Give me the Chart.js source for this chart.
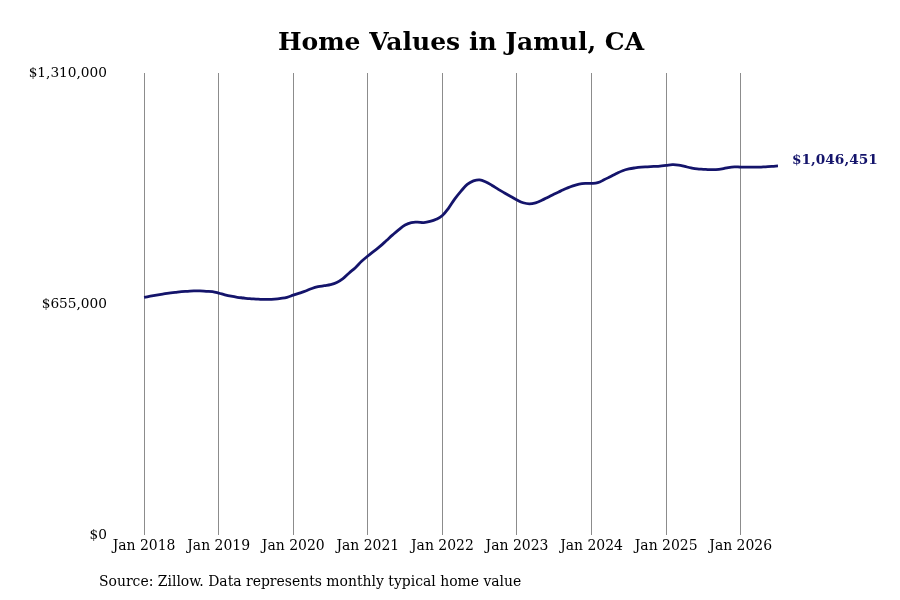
<!DOCTYPE html>
<html>
<head>
<meta charset="utf-8">
<script src="https://cdn.jsdelivr.net/npm/chart.js@4.4.1/dist/chart.umd.min.js"></script>
<style>
  html, body { margin: 0; padding: 0; background: #ffffff; }
  #wrap { position: relative; width: 900px; height: 600px; }
</style>
</head>
<body>
<div id="wrap"><canvas id="c" width="900" height="600"></canvas></div>
<script>
// Month index 0 = Jan 2018
const startYear = 2018;
const homeValues = [
  674000, 677000, 680000, 683000, 686000, 688000, 690000, 691000, 692000, 692000, 691000, 690000,
  686000, 681000, 677000, 674000, 672000, 670000, 669000, 668000, 668000, 669000, 671000, 674000,
  680000, 686000, 692000, 699000, 704000, 707000, 710000, 716000, 727000, 743000, 758000, 776000,
  791000, 805000, 819000, 835000, 851000, 866000, 879000, 886000, 887000, 886000, 889000, 895000,
  906000, 927000, 953000, 975000, 994000, 1004000, 1007000, 1001000, 991000, 980000, 970000, 960000,
  950000, 942000, 939000, 942000, 949000, 958000, 967000, 975000, 983000, 990000, 995000, 997000,
  997000, 999000, 1007000, 1016000, 1025000, 1033000, 1038000, 1041000, 1043000, 1044000, 1045000, 1046000,
  1048000, 1050000, 1049000, 1045000, 1041000, 1038000, 1037000, 1036000, 1036000, 1038000, 1042000, 1044000,
  1043000, 1043000, 1043000, 1043000, 1044000, 1045000, 1046451
];
const monthLabels = homeValues.map((_, i) => {
  const names = ['Jan','Feb','Mar','Apr','May','Jun','Jul','Aug','Sep','Oct','Nov','Dec'];
  return names[i % 12] + ' ' + (startYear + Math.floor(i / 12));
});
const yearTickLabels = ['Jan 2018','Jan 2019','Jan 2020','Jan 2021','Jan 2022','Jan 2023','Jan 2024','Jan 2025','Jan 2026'];
const yTickValues = [0, 655000, 1310000];
const titleText = 'Home Values in Jamul, CA';
const sourceText = 'Source: Zillow. Data represents monthly typical home value';
const endLabel = '$1,046,451';

const points = homeValues.map((v, i) => ({ x: i, y: v }));
const lineColor = '#14146b';

const fmt = v => '$' + Math.round(v).toLocaleString('en-US');

const overlay = {
  id: 'overlay',
  afterDraw(chart) {
    const ctx = chart.ctx;
    ctx.save();
    ctx.fillStyle = '#000';
    ctx.textAlign = 'center';
    ctx.textBaseline = 'middle';
    ctx.font = 'bold 25px "DejaVu Serif"';
    ctx.fillText(titleText, 461, 43);
    ctx.font = '15.5px "DejaVu Serif Condensed", "DejaVu Serif"';
    ctx.textAlign = 'left';
    ctx.fillText(sourceText, 99, 582);
    const meta = chart.getDatasetMeta(0);
    const last = meta.data[meta.data.length - 1];
    ctx.fillStyle = lineColor;
    ctx.font = 'bold 13.7px "DejaVu Serif"';
    ctx.fillText(endLabel, last.x + 14, last.y - 6);
    ctx.restore();
  }
};

new Chart(document.getElementById('c'), {
  type: 'line',
  data: {
    labels: monthLabels,
    datasets: [{
      data: points,
      borderColor: lineColor,
      borderWidth: 2.8,
      pointRadius: 0,
      tension: 0.4,
      fill: false
    }]
  },
  options: {
    responsive: false,
    animation: false,
    layout: { padding: { top: 73, right: 122, bottom: 35, left: 0 } },
    plugins: { legend: { display: false }, tooltip: { enabled: false }, title: { display: false } },
    scales: {
      x: {
        type: 'linear',
        min: -5,
        max: 102,
        afterBuildTicks(scale) {
          scale.ticks = yearTickLabels.map((_, i) => ({ value: i * 12 }));
        },
        afterFit(scale) { scale.height = 30; },
        ticks: {
          autoSkip: false,
          maxRotation: 0,
          padding: 2,
          color: '#000',
          font: { family: '"DejaVu Serif Condensed", "DejaVu Serif"', size: 15.5 },
          callback: (v) => yearTickLabels[Math.round(v / 12)]
        },
        grid: { display: true, color: '#8c8c8c', lineWidth: 1, drawTicks: false },
        border: { display: false }
      },
      y: {
        min: 0,
        max: 1310000,
        afterBuildTicks(scale) {
          scale.ticks = yTickValues.map(v => ({ value: v }));
        },
        afterFit(scale) { scale.width = 113; },
        ticks: {
          padding: 6,
          color: '#000',
          font: { family: '"DejaVu Serif"', size: 13.7 },
          callback: (v) => fmt(v)
        },
        grid: { display: false, drawTicks: false },
        border: { display: false }
      }
    }
  },
  plugins: [overlay]
});
</script>
</body>
</html>
